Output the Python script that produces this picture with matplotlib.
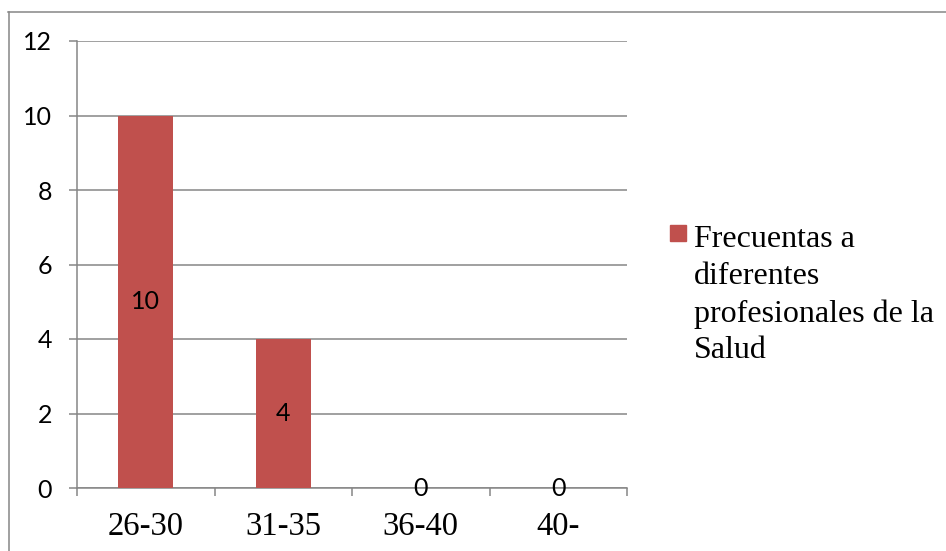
import numpy as np
from matplotlib import pyplot as plt
from matplotlib.patches import Rectangle
from matplotlib.lines import Line2D

categories = ['26-30', '31-35', '36-40', '40-']
values = [10, 4, 0, 0]
series_name = 'Frecuentas a\ndiferentes\nprofesionales de la\nSalud'
yticks = [0, 2, 4, 6, 8, 10, 12]

bar_color = '#C0504D'
grey = '#868686'
W, H = 946, 551

fig = plt.figure(figsize=(W / 100, H / 100), dpi=100)
ax = fig.add_axes([77 / W, 63 / H, 550 / W, 447 / H])

x = np.arange(len(categories)) + 0.5
ax.bar(x, values, width=0.4, color=bar_color, zorder=3)

for xi, v in zip(x, values):
    ax.text(xi, v / 2, str(v), ha='center', va='center', fontsize=18,
            fontfamily='Lato', color='black', zorder=4)

ax.set_xlim(0, len(categories))
ax.set_ylim(0, 12)
ax.set_yticks(yticks)
ax.set_yticklabels([str(t) for t in yticks], fontfamily='Lato', fontsize=18)
ax.tick_params(axis='y', length=6, width=1.1, color=grey, pad=12)

ax.set_xticks(np.arange(len(categories) + 1))
ax.set_xticklabels([])
ax.set_xticks(x, minor=True)
ax.set_xticklabels(categories, minor=True, fontfamily='Liberation Serif', fontsize=23.5)
ax.tick_params(axis='x', which='major', length=6, width=1.1, color=grey)
ax.tick_params(axis='x', which='minor', length=0, pad=17)

ax.yaxis.grid(True, color=grey, linewidth=1.1, zorder=0)
ax.set_axisbelow(True)
for s in ['top', 'right']:
    ax.spines[s].set_visible(False)
for s in ['left', 'bottom']:
    ax.spines[s].set_color(grey)
    ax.spines[s].set_linewidth(1.1)

# legend
fig.patches.append(Rectangle((670 / W, 1 - 241 / H), 16 / W, 16 / H,
                             transform=fig.transFigure, color=bar_color))
fig.text(694 / W, 1 - 225 / H, series_name, ha='left', va='top',
         fontfamily='Liberation Serif', fontsize=23, linespacing=1.36)

# chart border
fig.lines.append(Line2D([8 / W, 1], [1 - 11.5 / H, 1 - 11.5 / H],
                        transform=fig.transFigure, color=grey, lw=1.1))
fig.lines.append(Line2D([8.5 / W, 8.5 / W], [0, 1 - 11.5 / H],
                        transform=fig.transFigure, color=grey, lw=1.1))

fig.savefig('out.png', dpi=100)
